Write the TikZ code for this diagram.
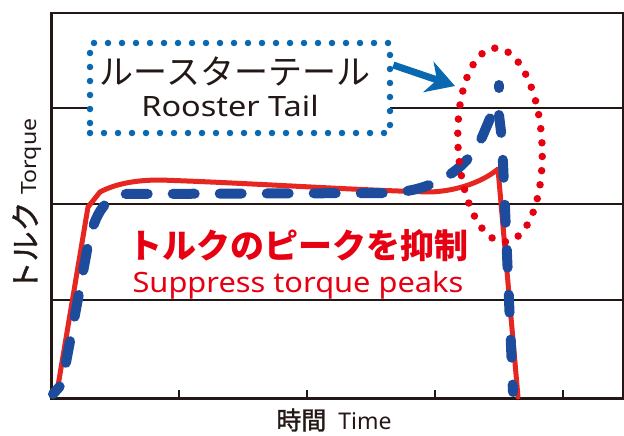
\documentclass[tikz,border=0pt]{standalone}
\usepackage{fontspec}
\setmainfont{Noto Sans}
\newfontfamily\jp{Noto Sans CJK JP}
\newfontfamily\jpm{Noto Sans CJK JP}[FakeBold=1.3]
\newfontfamily\latwide{Noto Sans}[FakeStretch=1.16]
\newfontfamily\latmid{Noto Sans}[FakeStretch=1.1]
\usetikzlibrary{arrows.meta,shapes.geometric}
\definecolor{inkblack}{HTML}{231815}
\definecolor{curvered}{HTML}{E62620}
\definecolor{textred}{HTML}{E60012}
\definecolor{dashblue}{HTML}{1D4C9C}
\definecolor{dotblue}{HTML}{0A68B0}
\definecolor{dotred}{HTML}{E60012}
\begin{document}
\begin{tikzpicture}[x=1pt,y=-1pt,
  frame/.style={draw=inkblack, line width=2.5pt, inner sep=0pt, minimum width=572pt, minimum height=385pt},
  gridline/.style={draw=inkblack, line width=1.3pt},
  redcurve/.style={draw=curvered, line width=5pt, line join=round, line cap=round},
  bluedash/.style={draw=dashblue, line width=10pt, line cap=round, line join=round},
  dotbox/.style={draw=dotblue, fill=white, line width=6.5pt, line cap=round, dash pattern=on 0pt off 14pt, minimum width=300pt, minimum height=90pt, inner sep=0pt},
  dotell/.style={ellipse, draw=dotred, line width=7.5pt, line cap=round, dash pattern=on 0pt off 14.2pt, minimum width=84pt, minimum height=194pt, inner sep=0pt},
  callout/.style={draw=dotblue, line width=7pt, -{Stealth[length=28pt,width=32pt,inset=9pt]}}
]
\useasboundingbox (0,0) rectangle (624,436);
% grid
\draw[gridline] (50,108) -- (622,108);
\draw[gridline] (50,204) -- (622,204);
\draw[gridline] (50,300) -- (622,300);
\foreach \x in {179,307,435,563} \draw[gridline] (\x,397) -- (\x,390);
\node[frame, anchor=north west] (plot) at (50,12) {};
% red curve
\draw[redcurve] (57,392) -- (88,207) -- (100,192) .. controls (115,184) and (135,180) .. (160,180)
  .. controls (250,183) and (350,190) .. (430,192) .. controls (460,191) and (485,180) .. (498,169) -- (518,397);
% blue dashed curve
\draw[bluedash, dash pattern=on 22pt off 25pt, dash phase=12pt] (53,394) -- (62,384) -- (86,256)
  .. controls (91,226) and (100,197) .. (125,194) -- (390,193)
  .. controls (440,190) and (470,165) .. (483,135) -- (494,109);
\draw[bluedash] (499,85) -- (499,88);
\draw[bluedash, dash pattern=on 18pt off 27pt] (499,115) -- (502,140) -- (513,392);
% callout box
\node[dotbox] (box) at (240,88) {};
\node[font=\jp\fontsize{34pt}{34pt}\selectfont, text=inkblack] (rtjp) at (235,71) {ルースターテール};
\node[font=\latwide\fontsize{28pt}{28pt}\selectfont, text=inkblack, anchor=base] (rten) at (230,117) {Rooster Tail};
% ellipse
\node[dotell, rotate=3] (ring) at (500,145) {};
\coordinate (tipA) at (455,86);
\draw[callout] ([yshift=23pt]box.east) -- (tipA);
% red texts
\node[font=\jp\bfseries\fontsize{34pt}{34pt}\selectfont, text=textred] (supjp) at (298,246) {トルクのピークを抑制};
\node[font=\latmid\fontsize{28pt}{28pt}\selectfont, text=textred, anchor=base] (supen) at (298,292) {Suppress torque peaks};
% axis labels
\node[rotate=90, text=inkblack, inner sep=0pt] (ylab) at (27,205) {{\jpm\fontsize{30pt}{30pt}\selectfont トルク}\hspace{7pt}{\latmid\fontsize{21pt}{21pt}\selectfont Torque}};
\node[text=inkblack, inner sep=0pt] (xlab) at (334,420) {{\jpm\fontsize{25pt}{25pt}\selectfont 時間}\hspace{12pt}{\fontsize{23pt}{23pt}\selectfont Time}};
\end{tikzpicture}
\end{document}
